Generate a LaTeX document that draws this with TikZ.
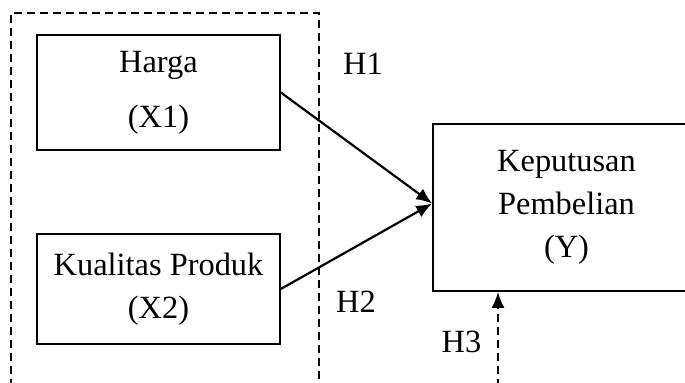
\documentclass[tikz,border=0pt]{standalone}
\usepackage{fontspec}
\setmainfont{Liberation Serif}
\usepackage{tikz}
\usetikzlibrary{arrows.meta}
\usetikzlibrary{positioning}
\tikzstyle{var}=[draw,line width=0.8pt,rectangle,align=center,inner sep=0pt]
\tikzstyle{hit}=[-{Latex[length=8pt,width=6.5pt]},line width=1.1pt]
\tikzstyle{hitdash}=[hit,dash pattern=on 4pt off 2.5pt]
\tikzstyle{group}=[line width=0.75pt,dash pattern=on 4pt off 2.5pt]
\tikzstyle{hyp}=[inner sep=0pt]

\begin{document}
\begin{tikzpicture}[x=0.5pt,y=-0.5pt,font=\fontsize{16.2}{21.5}\selectfont]
\path[use as bounding box,clip] (0,0) rectangle (685,383);
% kelompok variabel bebas
\draw[group] (11,400) -- (11,13) -- (319,13) -- (319,400);
\node[var,minimum width=121.5pt,minimum height=57.5pt] (harga) at (158.5,92.5)
  {Harga\\[6pt](X1)};
\node[var,minimum width=121.5pt,minimum height=55pt] (kualitas) at (158.5,289)
  {Kualitas Produk\\(X2)};
\node[var,minimum width=133.5pt,minimum height=83.5pt] (keputusan) at (566.5,207.5)
  {Keputusan\\Pembelian\\(Y)};
\node[hyp] (h1) at (363,63.5) {H1};
\node[hyp] (h2) at (356,302) {H2};
\node[hyp] (h3) at (461.5,342) {H3};
\coordinate (h3start) at (498,400);
\draw[hit] (harga.east) -- ([yshift=2pt]keputusan.west);
\draw[hit] (kualitas.east) -- ([yshift=2pt]keputusan.west);
\draw[hitdash] (h3start) -- (h3start |- keputusan.south);
\end{tikzpicture}
\end{document}
